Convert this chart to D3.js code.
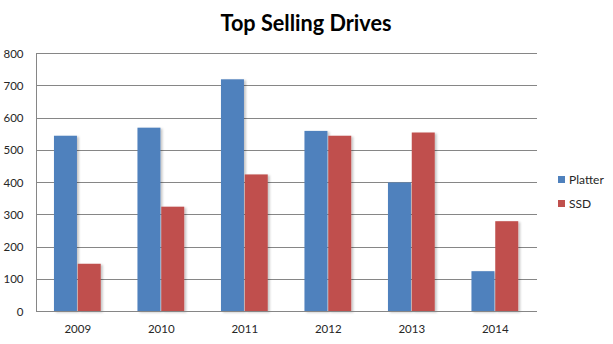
<!DOCTYPE html>
<html>
<head>
<meta charset="utf-8">
<script src="https://cdn.jsdelivr.net/npm/d3@7"></script>
<style>
  html, body { margin: 0; padding: 0; background: #ffffff; }
  svg { display: block; }
  text { font-family: Lato, "Open Sans", sans-serif; }
</style>
</head>
<body>
<div id="chart"></div>
<script>
// Yearly drive sales, two series
const years = ["2009", "2010", "2011", "2012", "2013", "2014"];
const platter = [545, 570, 720, 560, 400, 125];
const ssd = [148, 325, 425, 545, 555, 280];
const seriesNames = ["Platter", "SSD"];
const seriesColors = ["#4F81BD", "#C0504D"];
const yTicks = [0, 100, 200, 300, 400, 500, 600, 700, 800];
const chartTitle = "Top Selling Drives";

const W = 613, H = 344;
const plot = { left: 36, right: 537, top: 53.5, bottom: 311.5 };

const svg = d3.select("#chart").append("svg")
  .attr("width", W).attr("height", H);

// soft shadow on the right of each bar
const defs = svg.append("defs");
const f = defs.append("filter").attr("id", "barShadow")
  .attr("x", "-20%").attr("y", "-5%").attr("width", "150%").attr("height", "115%");
f.append("feDropShadow").attr("dx", 2).attr("dy", 1)
  .attr("stdDeviation", 1.2).attr("flood-color", "#000").attr("flood-opacity", 0.22);

const x0 = d3.scaleBand().domain(years)
  .range([plot.left, plot.right]).paddingInner(0.43).paddingOuter(0.215);
const x1 = d3.scaleBand().domain(seriesNames).range([0, x0.bandwidth()]).padding(0);
const y = d3.scaleLinear().domain([0, 800]).range([plot.bottom, plot.top]);
const snap = v => Math.round(v - 0.5) + 0.5;

// title
svg.append("text")
  .attr("x", 306).attr("y", 30.5)
  .attr("text-anchor", "middle")
  .attr("font-size", 22).attr("font-weight", 700).attr("fill", "#000")
  .attr("textLength", 171).attr("lengthAdjust", "spacingAndGlyphs")
  .text(chartTitle);

// horizontal gridlines
svg.append("g").selectAll("line").data(yTicks).join("line")
  .attr("x1", plot.left).attr("x2", plot.right)
  .attr("y1", d => snap(y(d))).attr("y2", d => snap(y(d)))
  .attr("stroke", "#868686").attr("stroke-width", 1);

// y axis labels
svg.append("g").selectAll("text").data(yTicks).join("text")
  .attr("x", 23.5).attr("y", d => y(d))
  .attr("dy", "0.35em").attr("text-anchor", "end")
  .attr("font-size", 11.5).attr("fill", "#262626")
  .text(d => d);

// bars
const rows = years.map((yr, i) => ({ year: yr, values: [platter[i], ssd[i]] }));
const groups = svg.append("g").selectAll("g").data(rows).join("g")
  .attr("transform", d => `translate(${x0(d.year)},0)`);
groups.selectAll("rect")
  .data(d => d.values.map((v, j) => ({ name: seriesNames[j], value: v, color: seriesColors[j] })))
  .join("rect")
  .attr("x", d => x1(d.name))
  .attr("width", x1.bandwidth() - 0.8)
  .attr("y", d => y(d.value))
  .attr("height", d => y(0) - y(d.value))
  .attr("fill", d => d.color)
  .attr("filter", "url(#barShadow)");

// axis lines
svg.append("line")
  .attr("x1", plot.left + 0.5).attr("x2", plot.left + 0.5)
  .attr("y1", snap(y(800))).attr("y2", snap(y(0)))
  .attr("stroke", "#868686");
svg.append("line")
  .attr("x1", plot.left).attr("x2", plot.right)
  .attr("y1", snap(y(0))).attr("y2", snap(y(0)))
  .attr("stroke", "#868686");

// x axis labels
svg.append("g").selectAll("text").data(years).join("text")
  .attr("x", d => x0(d) + x0.bandwidth() / 2)
  .attr("y", 329).attr("dy", "0.35em")
  .attr("text-anchor", "middle")
  .attr("font-size", 11.5).attr("fill", "#262626")
  .text(d => d);

// legend
const legend = svg.append("g").selectAll("g").data(seriesNames).join("g")
  .attr("transform", (d, i) => `translate(558,${176 + i * 24})`);
legend.append("rect")
  .attr("width", 7).attr("height", 7)
  .attr("fill", (d, i) => seriesColors[i]);
legend.append("text")
  .attr("x", 11).attr("y", 3.5).attr("dy", "0.35em")
  .attr("font-size", 12).attr("fill", "#262626")
  .text(d => d);
</script>
</body>
</html>
